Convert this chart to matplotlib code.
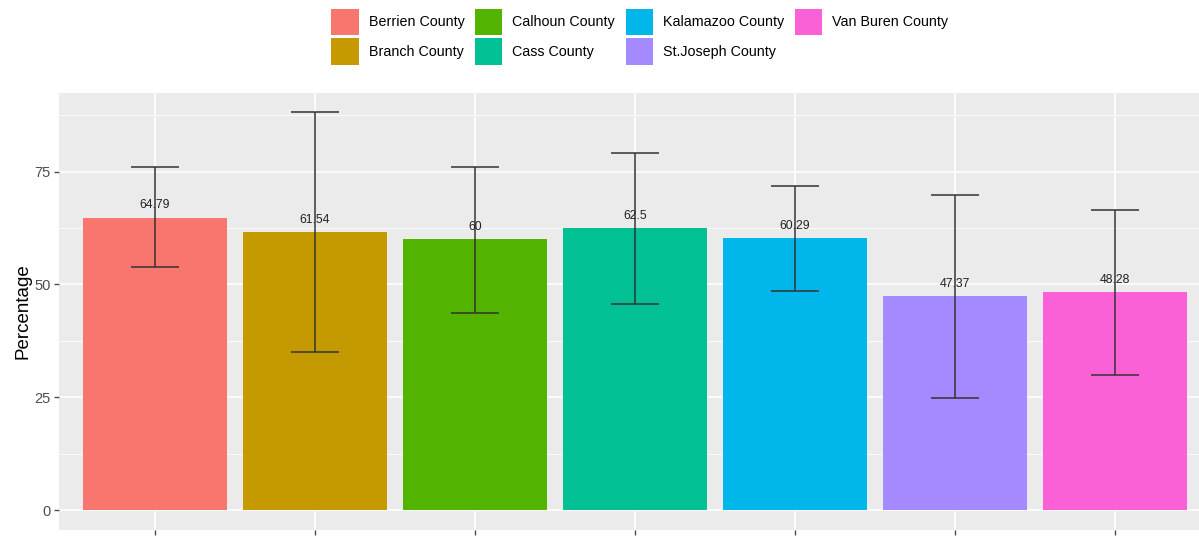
import matplotlib
matplotlib.use("Agg")
import matplotlib.pyplot as plt
from matplotlib.patches import Patch
import numpy as np

plt.rcParams["font.family"] = ["Liberation Sans", "DejaVu Sans"]

# ---------------------------------------------------------------------------
# Data
# ---------------------------------------------------------------------------
counties = [
    "Berrien County", "Branch County", "Calhoun County", "Cass County",
    "Kalamazoo County", "St.Joseph County", "Van Buren County",
]
percentages = [64.79, 61.54, 60.0, 62.5, 60.29, 47.37, 48.28]
value_labels = ["64.79", "61.54", "60", "62.5", "60.29", "47.37", "48.28"]
err_low = [53.8, 35.0, 43.6, 45.6, 48.5, 24.8, 29.9]
err_high = [75.9, 88.1, 76.1, 79.2, 71.9, 69.7, 66.4]
colors = ["#F8766D", "#C49A00", "#53B400", "#00C094", "#00B6EB", "#A58AFF", "#FB61D7"]
y_ticks = [0, 25, 50, 75]

# ---------------------------------------------------------------------------
# Figure
# ---------------------------------------------------------------------------
fig = plt.figure(figsize=(11.99, 5.37), dpi=100)
ax = fig.add_axes([0.0492, 0.013, 0.9608, 0.8138])
ax.set_facecolor("#EBEBEB")

x = np.arange(1, len(counties) + 1)
vals = np.array(percentages)
lo = np.array(err_low)
hi = np.array(err_high)

# grid, ggplot-style
for yv in [12.5, 37.5, 62.5, 87.5]:
    ax.axhline(yv, color="white", linewidth=0.6, zorder=0)
for yv in y_ticks:
    ax.axhline(yv, color="white", linewidth=1.2, zorder=0)
for xv in x:
    ax.axvline(xv, color="white", linewidth=1.2, zorder=0)

ax.bar(x, vals, width=0.9, color=colors, zorder=1)
ax.errorbar(
    x, vals, yerr=[vals - lo, hi - vals],
    fmt="none", ecolor="#333333", elinewidth=1.1,
    capsize=17, capthick=1.1, zorder=2,
)
for xi, v, lab in zip(x, vals, value_labels):
    ax.text(xi, v + 2.7, lab, ha="center", va="center",
            fontsize=8.8, color="#222222", zorder=3)

ax.set_xlim(0.4, 7.6)
ax.set_ylim(-4.4, 92.4)
ax.set_xticks(x)
ax.set_xticklabels([])
ax.set_yticks(y_ticks)
ax.tick_params(axis="both", colors="#4D4D4D", length=3.6, width=1, pad=2.5,
               labelsize=10.5, labelcolor="#4D4D4D")
for s in ax.spines.values():
    s.set_visible(False)
ax.set_ylabel("Percentage", fontsize=13.5, color="black", labelpad=2)

handles = [Patch(facecolor=c, edgecolor="none") for c in colors]
fig.legend(
    handles, counties, loc="upper center", bbox_to_anchor=(0.5335, 1.008),
    ncol=4, frameon=False, fontsize=10.3, handlelength=1.9, handleheight=2.5,
    columnspacing=0.75, labelspacing=0.17, handletextpad=0.7,
)

fig.savefig("out.png", dpi=100)
